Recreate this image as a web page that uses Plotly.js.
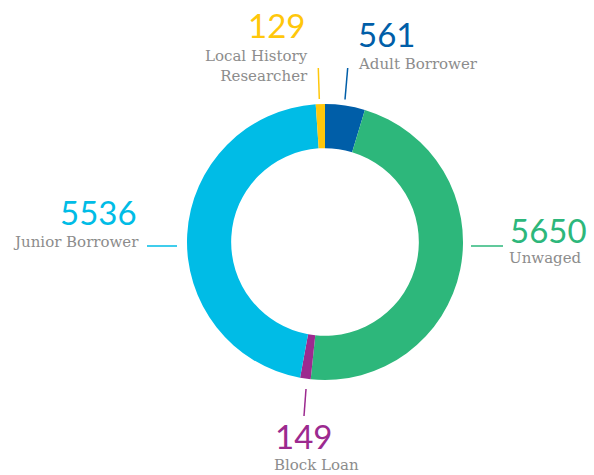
<!DOCTYPE html>
<html><head><meta charset="utf-8">
<script src="https://cdn.plot.ly/plotly-3.0.1.min.js"></script>
<style>html,body{margin:0;padding:0;background:#fff;}#chart{width:594px;height:475px;}</style>
</head><body><div id="chart"></div>
<script>
const categories = ["Adult Borrower", "Unwaged", "Block Loan", "Junior Borrower", "Local History Researcher"];
const values = [561, 5650, 149, 5536, 129];
const colors = ["#005EA8", "#2DB77B", "#9C2A8F", "#00BCE6", "#FFC70B"];
const labelLines = [["Adult Borrower"], ["Unwaged"], ["Block Loan"], ["Junior Borrower"], ["Local History", "Researcher"]];

const W = 594, H = 475;
const px = x => x / W, py = y => (H - y) / H;
const cx = 325, cy = 242, R = 138;

// label placement (layout only)
const place = [
  {nx: 357, ny: 34, nanch: "left",  lx: 357, ly: 64, lanch: "left",  line: [347.7, 68, 345, 99.5]},
  {nx: 509, ny: 230, nanch: "left", lx: 508, ly: 258, lanch: "left", line: [471, 246, 503, 246]},
  {nx: 274, ny: 436, nanch: "left", lx: 273, ly: 465, lanch: "left", line: [306, 389, 304, 416]},
  {nx: 138, ny: 212, nanch: "right", lx: 140, ly: 242, lanch: "right", line: [147, 246, 177, 246]},
  {nx: 306, ny: 25, nanch: "right", lx: 309, ly: 66, lanch: "right", line: [318.3, 68, 319.3, 99]}
];

const annotations = [];
const shapes = [];
categories.forEach((c, i) => {
  const p = place[i];
  annotations.push({xref: "paper", yref: "paper", x: px(p.nx), y: py(p.ny), xanchor: p.nanch, yanchor: "middle",
    text: String(values[i]), showarrow: false, borderpad: 0, font: {family: "Lato", size: 33, color: colors[i]}});
  annotations.push({xref: "paper", yref: "paper", x: px(p.lx), y: py(p.ly), xanchor: p.lanch, yanchor: "middle",
    text: labelLines[i].join("<br>"), align: p.lanch, showarrow: false, borderpad: 0,
    font: {family: "DejaVu Serif", size: 15, color: "#8c8c8c"}});
  shapes.push({type: "line", xref: "paper", yref: "paper", x0: px(p.line[0]), y0: py(p.line[1]), x1: px(p.line[2]), y1: py(p.line[3]),
    line: {color: colors[i], width: 1.5}});
});

const trace = {
  type: "pie", labels: categories, values: values, hole: 0.68, sort: false, direction: "clockwise", rotation: 0,
  marker: {colors: colors, line: {width: 0}}, textinfo: "none", hoverinfo: "label+value",
  domain: {x: [px(cx - R), px(cx + R)], y: [py(cy + R), py(cy - R)]}, automargin: false
};

Plotly.newPlot("chart", [trace], {
  width: W, height: H, margin: {l: 0, r: 0, t: 0, b: 0}, showlegend: false,
  paper_bgcolor: "#fff", annotations: annotations, shapes: shapes
}, {staticPlot: true});
</script></body></html>
